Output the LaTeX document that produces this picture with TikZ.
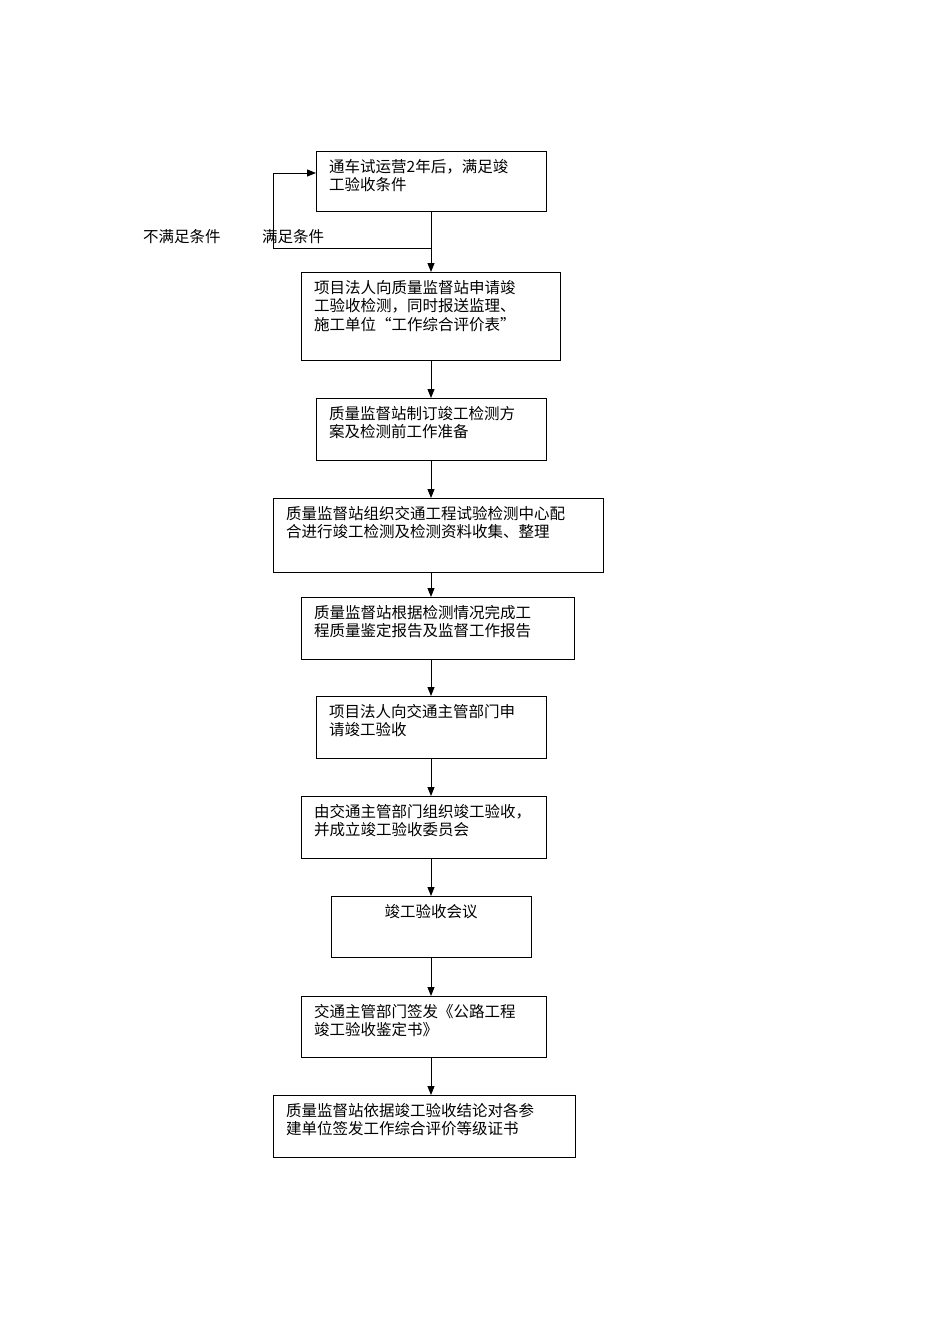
\documentclass[tikz,border=0pt]{standalone}
\usepackage{fontspec}
\newfontfamily\cjk{Noto Sans CJK SC}
\usetikzlibrary{arrows.meta}
\begin{document}
\begin{tikzpicture}[x=1pt,y=-1pt,
  boxst/.style={draw,line width=0.9pt,inner sep=0,outer sep=0},
  txt/.style={anchor=north west,inner sep=0,align=left,font=\cjk\fontsize{15.5}{18.5}\selectfont},
  arr/.style={-{Triangle[length=9pt,width=7pt]},line width=0.9pt},
  ln/.style={line width=0.9pt}]
\useasboundingbox (0,0) rectangle (950,1344);
\newcommand{\mybox}[6]{%
  \node[boxst,minimum width={#4-#2},minimum height={#5-#3},anchor=north west] (#1) at (#2,#3) {};
  \node[txt,text width={#4-#2-24}] (#1t) at (#2+13,#3+8) {#6};}
\mybox{b1}{316}{151}{546}{211}{通车试运营2年后，满足竣\\工验收条件}
\mybox{b2}{301}{272}{560}{360}{项目法人向质量监督站申请竣\\工验收检测，同时报送监理、\\施工单位“工作综合评价表”}
\mybox{b3}{316}{398}{546}{460}{质量监督站制订竣工检测方\\案及检测前工作准备}
\mybox{b4}{273}{498}{603}{572}{质量监督站组织交通工程试验检测中心配\\合进行竣工检测及检测资料收集、整理}
\mybox{b5}{301}{597}{574}{659}{质量监督站根据检测情况完成工\\程质量鉴定报告及监督工作报告}
\mybox{b6}{316}{696}{546}{758}{项目法人向交通主管部门申\\请竣工验收}
\mybox{b7}{301}{796}{546}{858}{由交通主管部门组织竣工验收，\\并成立竣工验收委员会}
\node[boxst,minimum width=200,minimum height=61,anchor=north west] (b8) at (331,896) {};
\node[anchor=north,inner sep=0,font=\cjk\fontsize{15.5}{18.5}\selectfont] (b8t) at (431,904) {竣工验收会议};
\mybox{b9}{301}{996}{546}{1057}{交通主管部门签发《公路工程\\竣工验收鉴定书》}
\mybox{b10}{273}{1095}{575}{1157}{质量监督站依据竣工验收结论对各参\\建单位签发工作综合评价等级证书}
\draw[arr] (b1.south -| 431,0) -- (b2.north -| 431,0);
\coordinate (j) at (431,248);
\coordinate (c) at (273,248);
\coordinate (e) at (316,173);
\draw[arr] (j) -- (c) |- (e);
\foreach \a/\b in {b2/b3,b3/b4,b4/b5,b5/b6,b6/b7,b7/b8,b8/b9,b9/b10}
  \draw[arr] (\a.south -| 431,0) -- (\b.north -| 431,0);
\node[anchor=west,inner sep=0,font=\cjk\fontsize{15.5}{18.5}\selectfont] (l1) at (143,237) {不满足条件};
\node[anchor=west,inner sep=0,font=\cjk\fontsize{15.5}{18.5}\selectfont] (l2) at (262,237) {满足条件};
\end{tikzpicture}
\end{document}
